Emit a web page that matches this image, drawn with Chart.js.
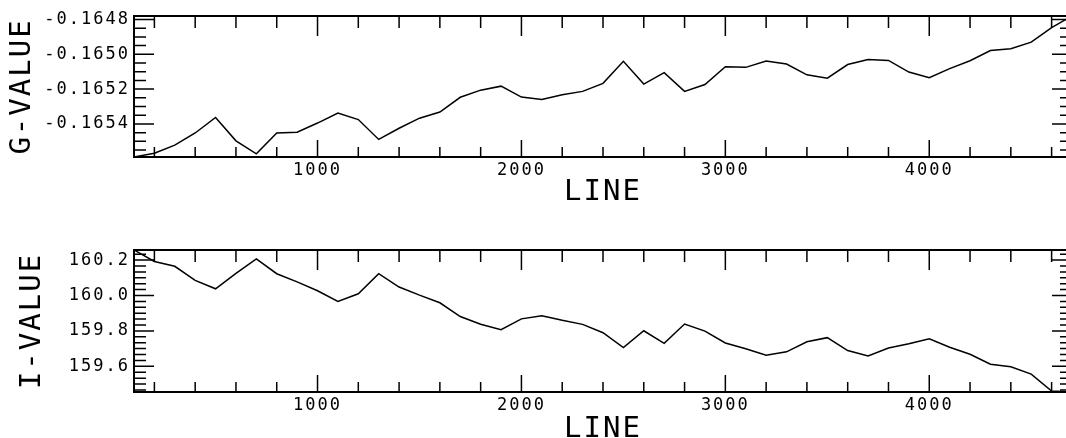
<!DOCTYPE html>
<html>
<head>
<meta charset="utf-8">
<script src="https://cdn.jsdelivr.net/npm/chart.js@4/dist/chart.umd.min.js"></script>
<style>
  html, body { margin: 0; padding: 0; background: #fff; overflow: hidden; }
  #wrap { position: relative; width: 1066px; height: 438px; overflow: hidden; }
  canvas { position: absolute; left: 0; }
  #gChart { top: 0; width: 1080px; height: 219px; }
  #iChart { top: 219px; width: 1080px; height: 240px; }
</style>
</head>
<body>
<div id="wrap">
  <canvas id="gChart" width="1080" height="219"></canvas>
  <canvas id="iChart" width="1080" height="240"></canvas>
</div>
<script>
// line numbers (x)
const lines = [
  100, 200, 300, 400, 500, 600, 700, 800, 900, 1000,
  1100, 1200, 1300, 1400, 1500, 1600, 1700, 1800, 1900, 2000,
  2100, 2200, 2300, 2400, 2500, 2600, 2700, 2800, 2900, 3000,
  3100, 3200, 3300, 3400, 3500, 3600, 3700, 3800, 3900, 4000,
  4100, 4200, 4300, 4400, 4500, 4600, 4700,
];

const gValues = [
  -0.16559, -0.165568, -0.165522, -0.165452, -0.165363, -0.165497, -0.165572, -0.165452, -0.165448, -0.165395,
  -0.165337, -0.165375, -0.165489, -0.165425, -0.165367, -0.165332, -0.165247, -0.165206, -0.165183, -0.165246,
  -0.165259, -0.165233, -0.165213, -0.165167, -0.16504, -0.165171, -0.165105, -0.165213, -0.165174, -0.165071,
  -0.165075, -0.165038, -0.165056, -0.165118, -0.165137, -0.165059, -0.16503, -0.165035, -0.165102, -0.165134,
  -0.165082, -0.165037, -0.164978, -0.164968, -0.16493, -0.164847, -0.16478,
];

const iValues = [
  160.257, 160.192, 160.165, 160.085, 160.038, 160.125, 160.207, 160.123, 160.077, 160.027,
  159.967, 160.01, 160.123, 160.048, 160.002, 159.959, 159.881, 159.838, 159.807, 159.868,
  159.886, 159.86, 159.837, 159.79, 159.706, 159.801, 159.73, 159.839, 159.799, 159.732,
  159.699, 159.663, 159.682, 159.739, 159.762, 159.689, 159.659, 159.703, 159.727, 159.756,
  159.708, 159.668, 159.612, 159.598, 159.556, 159.46, 159.455,
];

const lineTicks = [1000, 2000, 3000, 4000];
const gTicks = [-0.1654, -0.1652, -0.165, -0.1648];
const iTicks = [159.6, 159.8, 160.0, 160.2];

// wide plotter-like lettering
const spacing = {
  id: "spacing",
  beforeDraw: function (chart) {
    chart.ctx.letterSpacing = "2px";
  },
};

// frame with inward tick marks on all four sides
const frameTicks = {
  id: "frameTicks",
  afterDraw: function (chart, args, opts) {
    const ctx = chart.ctx;
    const a = chart.chartArea;
    const x = chart.scales.x;
    const y = chart.scales.y;
    ctx.save();
    ctx.strokeStyle = "#000";
    ctx.lineWidth = 2;
    ctx.strokeRect(a.left, a.top, a.right - a.left, a.bottom - a.top);
    ctx.lineWidth = 1.5;
    ctx.beginPath();
    for (let v = opts.xStep; v < x.max; v += opts.xStep) {
      const px = x.getPixelForValue(v);
      const major = v % opts.xMajor === 0;
      ctx.moveTo(px, a.bottom);
      ctx.lineTo(px, a.bottom - (major ? 17 : 10));
      ctx.moveTo(px, a.top);
      ctx.lineTo(px, a.top + (major ? 20 : 12));
    }
    const k0 = Math.ceil(y.min / opts.yStep - 1e-6);
    const k1 = Math.floor(y.max / opts.yStep + 1e-6);
    for (let k = k0; k <= k1; k++) {
      const py = y.getPixelForValue(k * opts.yStep);
      const len = k % opts.yPer === 0 ? 20 : 12;
      ctx.moveTo(a.left, py);
      ctx.lineTo(a.left + len, py);
      ctx.moveTo(a.right, py);
      ctx.lineTo(a.right - len, py);
    }
    ctx.stroke();
    ctx.restore();
  },
};

const font = "'DejaVu Sans Mono', monospace";

function makeChart(id, values, c) {
  return new Chart(document.getElementById(id), {
    type: "line",
    data: {
      datasets: [
        {
          data: lines.map((x, i) => ({ x: x, y: values[i] })),
          borderColor: "#000",
          borderWidth: 1.5,
          pointRadius: 0,
          tension: 0,
          fill: false,
        },
      ],
    },
    options: {
      responsive: false,
      animation: false,
      devicePixelRatio: 1,
      layout: { padding: { top: c.top, right: 8, left: 0, bottom: 0 } },
      plugins: {
        legend: { display: false },
        tooltip: { enabled: false },
        frameTicks: { xStep: 200, xMajor: 1000, yStep: c.yStep, yPer: c.yPer },
      },
      scales: {
        x: {
          type: "linear",
          min: 100,
          max: 4700,
          afterFit: function (scale) {
            scale.height = c.xHeight;
          },
          afterBuildTicks: function (scale) {
            scale.ticks = lineTicks.map((v) => ({ value: v }));
          },
          grid: { display: false, drawTicks: false },
          border: { display: false },
          ticks: {
            autoSkip: false,
            maxRotation: 0,
            padding: 3,
            color: "#000",
            font: { family: font, size: 17 },
            callback: (v) => String(v),
          },
          title: {
            display: true,
            text: "LINE",
            color: "#000",
            font: { family: font, size: 29 },
            padding: { top: 0, bottom: c.xTitlePad },
          },
        },
        y: {
          min: c.yMin,
          max: c.yMax,
          afterFit: function (scale) {
            scale.width = 134;
          },
          afterBuildTicks: function (scale) {
            scale.ticks = c.ticks.map((v) => ({ value: v }));
          },
          grid: { display: false, drawTicks: false },
          border: { display: false },
          ticks: {
            padding: 4,
            color: "#000",
            font: { family: font, size: 17 },
            callback: (v) => v.toFixed(c.digits),
          },
          title: {
            display: true,
            text: c.title,
            color: "#000",
            font: { family: font, size: 29 },
            padding: { top: c.yTitlePad, bottom: 0 },
          },
        },
      },
    },
    plugins: [spacing, frameTicks],
  });
}

makeChart("gChart", gValues, {
  top: 16,
  xHeight: 62,
  xTitlePad: 9,
  yTitlePad: 5,
  yMin: -0.16559,
  yMax: -0.16478,
  yStep: 0.00005,
  yPer: 4,
  ticks: gTicks,
  digits: 4,
  title: "G-VALUE",
});

makeChart("iChart", iValues, {
  top: 31,
  xHeight: 67,
  xTitlePad: 12,
  yTitlePad: 15,
  yMin: 159.455,
  yMax: 160.257,
  yStep: 0.2 / 6,
  yPer: 6,
  ticks: iTicks,
  digits: 1,
  title: "I-VALUE",
});
</script>
</body>
</html>
